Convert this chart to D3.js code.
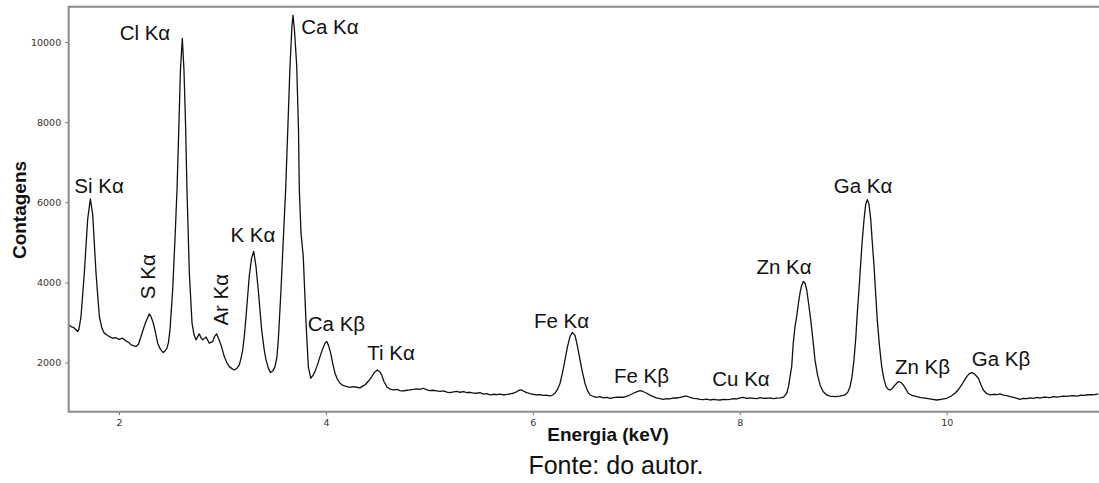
<!DOCTYPE html>
<html>
<head>
<meta charset="utf-8">
<script src="https://cdn.jsdelivr.net/npm/d3@7"></script>
<style>
  body { margin: 0; background: #fff; }
  .tick text { font-family: "DejaVu Sans", sans-serif; font-size: 9.5px; fill: #333; }
  .peak { font-family: "Liberation Sans", Arial, sans-serif; font-size: 20.5px; fill: #111; }
  .axis-label { font-family: "Liberation Sans", Arial, sans-serif; font-weight: bold; font-size: 19px; fill: #111; }
</style>
</head>
<body>
<div id="chart"></div>
<script>
// energy (keV) and counts
var energy = [1.514,1.536,1.565,1.601,1.613,1.633,1.665,1.697,1.723,1.746,1.778,1.810,1.836,1.858,1.884,1.913,1.939,1.971,2.000,2.036,
  2.068,2.097,2.116,2.145,2.164,2.188,2.213,2.237,2.261,2.293,2.309,2.332,2.353,2.374,2.401,2.428,2.445,2.464,2.478,2.493,
  2.519,2.541,2.561,2.580,2.594,2.612,2.628,2.643,2.657,2.680,2.706,2.725,2.744,2.776,2.793,2.809,2.841,2.873,2.906,2.923,
  2.944,2.962,2.986,3.018,3.044,3.066,3.092,3.114,3.141,3.163,3.179,3.196,3.213,3.228,3.259,3.281,3.302,3.324,3.346,3.379,
  3.402,3.421,3.445,3.466,3.489,3.508,3.527,3.540,3.566,3.588,3.611,3.634,3.653,3.672,3.682,3.696,3.718,3.735,3.743,3.759,
  3.781,3.808,3.830,3.853,3.875,3.894,3.919,3.943,3.967,3.991,4.008,4.025,4.046,4.068,4.088,4.112,4.136,4.165,4.201,4.233,
  4.262,4.298,4.329,4.358,4.378,4.412,4.443,4.470,4.497,4.518,4.539,4.561,4.588,4.619,4.651,4.687,4.716,4.748,4.784,4.813,
  4.845,4.876,4.909,4.941,4.977,5.006,5.035,5.071,5.103,5.137,5.170,5.199,5.233,5.267,5.296,5.328,5.364,5.393,5.426,5.457,
  5.489,5.523,5.557,5.586,5.620,5.654,5.683,5.715,5.750,5.779,5.811,5.842,5.866,5.892,5.915,5.941,5.973,6.002,6.037,6.069,
  6.103,6.137,6.166,6.190,6.214,6.238,6.263,6.287,6.311,6.335,6.359,6.381,6.408,6.432,6.456,6.480,6.504,6.528,6.553,6.582,
  6.617,6.649,6.683,6.717,6.746,6.780,6.814,6.843,6.874,6.905,6.939,6.971,7.002,7.036,7.065,7.101,7.132,7.164,7.195,7.229,
  7.261,7.297,7.326,7.360,7.391,7.422,7.456,7.487,7.519,7.553,7.584,7.616,7.650,7.683,7.712,7.746,7.780,7.809,7.843,7.877,
  7.906,7.940,7.973,8.002,8.034,8.070,8.099,8.131,8.167,8.196,8.229,8.260,8.292,8.326,8.360,8.389,8.423,8.454,8.471,8.486,
  8.502,8.517,8.534,8.550,8.568,8.582,8.597,8.614,8.631,8.647,8.664,8.686,8.708,8.727,8.751,8.776,8.805,8.840,8.872,8.921,
  8.969,9.017,9.046,9.066,9.085,9.104,9.121,9.136,9.153,9.169,9.184,9.201,9.217,9.233,9.249,9.266,9.281,9.298,9.314,9.329,
  9.351,9.372,9.394,9.414,9.433,9.452,9.476,9.501,9.532,9.559,9.581,9.607,9.629,9.665,9.710,9.752,9.807,9.849,9.904,9.945,
  10.000,10.042,10.080,10.114,10.145,10.167,10.194,10.216,10.242,10.269,10.306,10.332,10.354,10.385,10.419,10.453,10.486,10.515,10.549,10.583,
  10.612,10.646,10.680,10.709,10.743,10.776,10.805,10.837,10.873,10.902,10.936,10.967,10.999,11.033,11.066,11.095,11.129,11.163,11.192,11.224,
  11.260,11.289,11.323,11.353,11.385,11.419,11.466];

var counts = [2950,2900,2870,2775,2830,3150,4235,5567,6085,5692,4235,3150,2850,2735,2690,2640,2610,2620,2580,2610,
  2540,2500,2442,2420,2400,2460,2650,2850,3025,3217,3150,2985,2750,2485,2330,2250,2290,2360,2500,2817,
  3817,5067,6317,8000,9300,10092,9300,8000,6317,4235,2985,2700,2567,2717,2620,2567,2640,2485,2525,2650,
  2717,2600,2442,2150,1990,1900,1850,1817,1860,1942,2100,2317,2700,3150,4150,4600,4775,4400,3817,2817,
  2350,2067,1850,1750,1800,1900,2150,2567,3817,5067,6317,8000,9400,10400,10667,10300,9400,7800,6317,5242,
  4650,2985,1900,1610,1680,1775,1950,2150,2330,2485,2525,2430,2235,1950,1735,1580,1485,1430,1400,1380,
  1400,1385,1370,1420,1442,1540,1650,1760,1817,1780,1692,1530,1400,1340,1317,1330,1300,1292,1310,1317,
  1330,1345,1330,1360,1320,1300,1310,1292,1280,1295,1265,1250,1270,1280,1260,1275,1250,1260,1240,1235,
  1250,1215,1225,1192,1210,1200,1215,1192,1205,1220,1235,1270,1310,1317,1280,1250,1225,1210,1192,1200,
  1180,1185,1167,1190,1235,1330,1485,1750,2067,2400,2650,2750,2680,2400,2067,1750,1485,1300,1192,1160,
  1135,1150,1120,1130,1110,1125,1140,1135,1135,1160,1192,1235,1270,1300,1280,1235,1190,1150,1120,1100,
  1085,1100,1095,1120,1117,1130,1150,1167,1130,1110,1100,1085,1075,1090,1067,1080,1070,1067,1085,1075,
  1085,1100,1095,1120,1135,1110,1120,1110,1100,1125,1105,1110,1120,1100,1115,1120,1140,1235,1400,1650,
  1900,2485,2900,3150,3500,3735,3920,4025,3980,3817,3500,3067,2550,2067,1700,1442,1280,1192,1165,1150,
  1165,1192,1270,1400,1650,2067,2600,3235,3850,4485,5050,5567,5950,6067,5950,5567,5000,4400,3700,3067,
  2400,1900,1580,1400,1340,1317,1360,1442,1525,1500,1442,1330,1235,1180,1150,1125,1110,1090,1067,1085,
  1110,1160,1235,1330,1442,1540,1650,1720,1750,1720,1610,1440,1317,1230,1192,1210,1200,1217,1190,1175,
  1150,1130,1110,1085,1110,1100,1120,1110,1130,1115,1140,1135,1125,1150,1140,1150,1165,1155,1170,1175,
  1165,1185,1180,1192,1200,1195,1217];

// peak annotations (text, energy, counts at baseline, rotated?)
var peakNames   = ["Si Kα","S Kα","Cl Kα","Ar Kα","K Kα","Ca Kα","Ca Kβ","Ti Kα","Fe Kα","Fe Kβ","Cu Kα","Zn Kα","Ga Kα","Zn Kβ","Ga Kβ"];
var peakEnergy  = [1.807,2.348,2.251,3.054,3.295,4.039,4.102,4.629,6.277,7.050,8.012,8.428,9.191,9.766,10.525];
var peakCounts  = [6243,4143,10055,3568,5005,10193,2793,2068,2868,1493,1418,4218,6243,1718,1918];
var peakRotated = [false,true,false,true,false,false,false,false,false,false,false,false,false,false,false];

var xTicks = [2, 4, 6, 8, 10];
var yTicks = [2000, 4000, 6000, 8000, 10000];

var width = 1099, height = 483;
var margin = { top: 6.7, left: 68.7, bottom: 71.3 };
var plotBottom = height - margin.bottom;

var svg = d3.select("#chart")
  .append("svg")
  .attr("width", width)
  .attr("height", height);

var x = d3.scaleLinear()
  .domain([1.514, 11.475])
  .range([margin.left, 1099.3]);

var y = d3.scaleLinear()
  .domain([775, 10880])
  .range([plotBottom, margin.top]);

svg.append("clipPath")
  .attr("id", "clip")
  .append("rect")
  .attr("x", margin.left)
  .attr("y", margin.top)
  .attr("width", width - margin.left)
  .attr("height", plotBottom - margin.top);

// spectrum
var pts = energy.map(function (e, i) { return [e, counts[i]]; });
var line = d3.line()
  .x(function (d) { return x(d[0]); })
  .y(function (d) { return y(d[1]); });

svg.append("path")
  .datum(pts)
  .attr("clip-path", "url(#clip)")
  .attr("d", line)
  .attr("fill", "none")
  .attr("stroke", "#111")
  .attr("stroke-width", 1.3)
  .attr("stroke-linejoin", "round");

// axes
var xAxis = svg.append("g")
  .attr("transform", "translate(0," + plotBottom + ")")
  .call(d3.axisBottom(x).tickValues(xTicks).tickSize(3.5).tickPadding(4).tickFormat(d3.format("d")));
var yAxis = svg.append("g")
  .attr("transform", "translate(" + margin.left + ",0)")
  .call(d3.axisLeft(y).tickValues(yTicks).tickSize(3.5).tickPadding(4).tickFormat(d3.format("d")));

[xAxis, yAxis].forEach(function (g) {
  g.select(".domain").remove();
  g.selectAll(".tick line").attr("stroke", "#777").attr("stroke-width", 1);
});

// frame (top, left, bottom)
svg.append("line").attr("x1", margin.left).attr("x2", width).attr("y1", margin.top).attr("y2", margin.top)
  .attr("stroke", "#8a8a8a").attr("stroke-width", 2);
svg.append("line").attr("x1", margin.left).attr("x2", margin.left).attr("y1", margin.top - 1).attr("y2", plotBottom + 1)
  .attr("stroke", "#8a8a8a").attr("stroke-width", 2);
svg.append("line").attr("x1", margin.left).attr("x2", width).attr("y1", plotBottom).attr("y2", plotBottom)
  .attr("stroke", "#8a8a8a").attr("stroke-width", 2);

// peak labels
peakNames.forEach(function (name, i) {
  var px = x(peakEnergy[i]), py = y(peakCounts[i]);
  var t = svg.append("text")
    .attr("class", "peak")
    .attr("text-anchor", "middle")
    .text(name);
  if (peakRotated[i]) {
    t.attr("transform", "translate(" + px + "," + py + ") rotate(-90)");
  } else {
    t.attr("x", px).attr("y", py);
  }
});

// axis titles
svg.append("text")
  .attr("class", "axis-label")
  .attr("x", 608)
  .attr("y", 441)
  .attr("text-anchor", "middle")
  .text("Energia (keV)");

svg.append("text")
  .attr("class", "axis-label")
  .attr("transform", "translate(26,210) rotate(-90)")
  .attr("text-anchor", "middle")
  .text("Contagens");

svg.append("text")
  .attr("x", 616)
  .attr("y", 474)
  .attr("text-anchor", "middle")
  .style("font-family", "'Liberation Sans', Arial, sans-serif")
  .style("font-size", "25px")
  .style("fill", "#111")
  .text("Fonte: do autor.");
</script>
</body>
</html>
